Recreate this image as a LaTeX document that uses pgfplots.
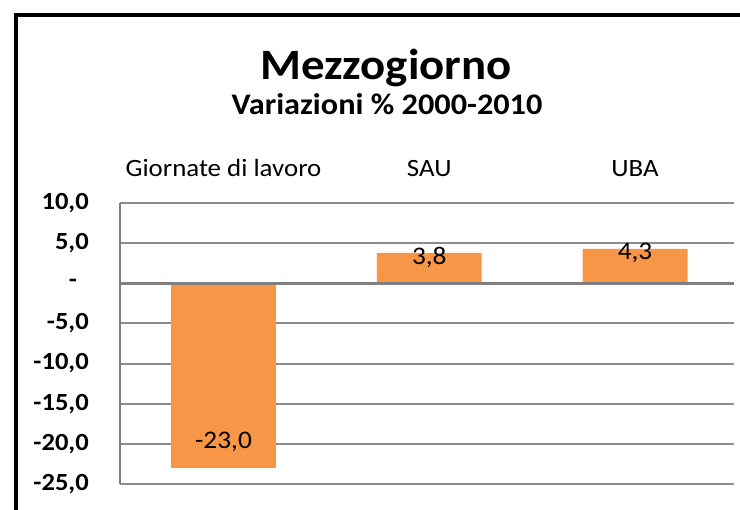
\documentclass[border=0pt]{standalone}
\usepackage{pgfplots}
\pgfplotsset{compat=1.18}
\usepackage{fontspec}
\setmainfont[FakeStretch=1.08]{Carlito}
\definecolor{barorange}{RGB}{247,150,70}
\definecolor{gridgray}{RGB}{140,140,140}
\definecolor{axisgray}{RGB}{128,128,128}
\begin{document}
\begin{tikzpicture}[x=1bp,y=1bp]
\useasboundingbox (0,0) rectangle (740,510);
\clip (0,0) rectangle (740,510);
\draw[line width=4bp] (15.5,-30) -- (15.5,495) -- (780,495);
\node[font=\bfseries\fontsize{43.5}{52}\selectfont, anchor=base, inner sep=0pt] at (386,430) {Mezzogiorno};
\node[font=\bfseries\fontsize{30}{36}\selectfont, anchor=base, inner sep=0pt] at (387,395) {Variazioni \% 2000-2010};
\begin{axis}[
  at={(120bp,26bp)}, anchor=south west, scale only axis,
  width=614bp, height=281bp,
  xmin=-0.503, xmax=2.481, ymin=-25, ymax=10,
  xtick={0,1,2}, xticklabels={Giornate di lavoro, SAU, UBA},
  xticklabel pos=upper,
  xticklabel style={font=\fontsize{25}{30}\selectfont, anchor=base, inner sep=0pt, yshift=26bp},
  ytick={-25,-20,-15,-10,-5,0,5,10},
  yticklabels={{-25,0},{-20,0},{-15,0},{-10,0},{-5,0},{\makebox[20bp][l]{-}},{5,0},{10,0}},
  yticklabel style={font=\bfseries\fontsize{24.7}{30}\selectfont, anchor=east, inner sep=0pt, xshift=-31bp},
  major tick length=0pt,
  ymajorgrids, grid style={gridgray, line width=2bp},
  axis line style={draw=none},
  clip=false,
  /pgf/number format/assume math mode=true,
]
\addplot[ybar, bar width=0.51, bar shift=0pt, fill=barorange, draw=none,
  nodes near coords={\pgfmathprintnumber[fixed, fixed zerofill, precision=1, use comma]{\pgfplotspointmeta}},
  every node near coord/.append style={font=\fontsize{25.4}{30}\selectfont, text=black, anchor=center, yshift=25.7bp}]
  coordinates {(0,-23.0)};
\addplot[ybar, bar width=0.51, bar shift=0pt, fill=barorange, draw=none,
  nodes near coords={\pgfmathprintnumber[fixed, fixed zerofill, precision=1, use comma]{\pgfplotspointmeta}},
  every node near coord/.append style={font=\fontsize{25.4}{30}\selectfont, text=black, anchor=center, yshift=-4.5bp}]
  coordinates {(1,3.8) (2,4.3)};
\draw[axisgray, line width=3bp] (axis cs:-0.503,0) -- (axis cs:2.481,0);
\draw[axisgray, line width=2.5bp] (rel axis cs:0,0) -- (rel axis cs:0,1);
\end{axis}
\end{tikzpicture}
\end{document}
